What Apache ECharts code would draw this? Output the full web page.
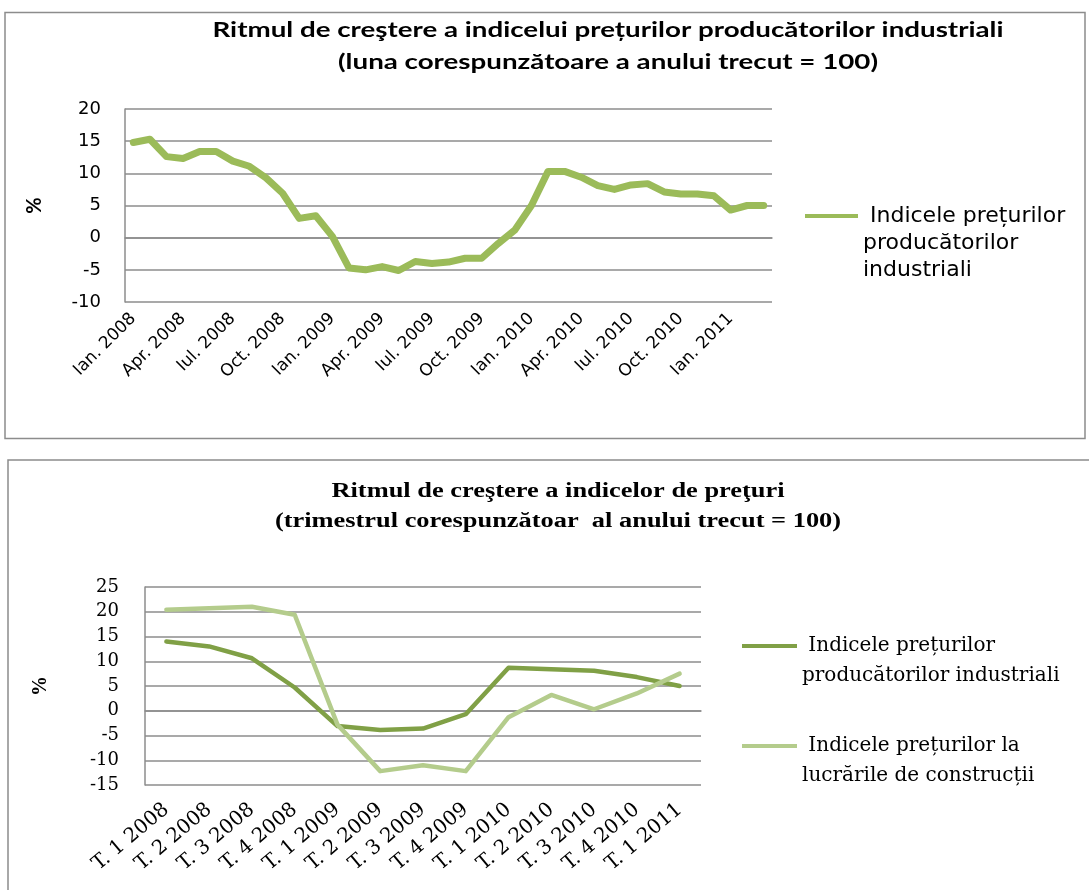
<!DOCTYPE html>
<html>
<head>
<meta charset="utf-8">
<script src="https://cdn.jsdelivr.net/npm/echarts@6/dist/echarts.min.js"></script>
<style>
  html, body { margin: 0; padding: 0; background: #fff; }
  #chart { width: 1089px; height: 890px; }
</style>
</head>
<body>
<div id="chart"></div>
<script>
// lunile (grafic lunar)
var months = [
  'Ian. 2008', 'Feb. 2008', 'Mar. 2008', 'Apr. 2008', 'Mai 2008', 'Iun. 2008',
  'Iul. 2008', 'Aug. 2008', 'Sep. 2008', 'Oct. 2008', 'Nov. 2008', 'Dec. 2008',
  'Ian. 2009', 'Feb. 2009', 'Mar. 2009', 'Apr. 2009', 'Mai 2009', 'Iun. 2009',
  'Iul. 2009', 'Aug. 2009', 'Sep. 2009', 'Oct. 2009', 'Nov. 2009', 'Dec. 2009',
  'Ian. 2010', 'Feb. 2010', 'Mar. 2010', 'Apr. 2010', 'Mai 2010', 'Iun. 2010',
  'Iul. 2010', 'Aug. 2010', 'Sep. 2010', 'Oct. 2010', 'Nov. 2010', 'Dec. 2010',
  'Ian. 2011', 'Feb. 2011', 'Mar. 2011'
];
var ipiMonthly = [
  14.8, 15.3, 12.6, 12.3, 13.4, 13.4, 11.9, 11.1, 9.3, 6.9, 3.0, 3.4,
  0.2, -4.7, -5.0, -4.5, -5.1, -3.7, -4.0, -3.8, -3.2, -3.2, -0.9, 1.2,
  5.0, 10.3, 10.3, 9.4, 8.1, 7.5, 8.2, 8.4, 7.1, 6.8, 6.8, 6.5,
  4.3, 5.0, 5.0
];

// trimestrele (grafic trimestrial)
var quarters = [
  'T. 1 2008', 'T. 2 2008', 'T. 3 2008', 'T. 4 2008',
  'T. 1 2009', 'T. 2 2009', 'T. 3 2009', 'T. 4 2009',
  'T. 1 2010', 'T. 2 2010', 'T. 3 2010', 'T. 4 2010',
  'T. 1 2011'
];
var ipiQuarterly = [14.0, 13.0, 10.6, 4.7, -3.1, -3.9, -3.6, -0.7, 8.7, 8.4, 8.1, 6.8, 5.0];
var constrQuarterly = [20.4, 20.7, 21.0, 19.4, -2.8, -12.2, -11.0, -12.2, -1.3, 3.2, 0.3, 3.5, 7.5];

var nameIpi = 'Indicele prețurilor producătorilor industriali';
var nameConstr = 'Indicele prețurilor la lucrările de construcții';

var gridColor = '#8c8c8c';
var sansTop = 'Lato, "Open Sans", sans-serif';
var sansWide = '"DejaVu Sans", sans-serif';
var serif = '"Liberation Serif", serif';
var serifWide = '"DejaVu Serif", serif';

var myChart = echarts.init(document.getElementById('chart'));

var options = {
  animation: false,
  graphic: [
    { type: 'rect', shape: { x: 5, y: 12.5, width: 1080, height: 426 },
      style: { fill: 'none', stroke: gridColor, lineWidth: 1.5 } },
    { type: 'rect', shape: { x: 8, y: 460, width: 1100, height: 450 },
      style: { fill: 'none', stroke: gridColor, lineWidth: 1.5 } },
    // titlurile sunt intinse pe orizontala, ca in original
    { type: 'text', x: 608, y: 46, scaleX: 1.32,
      style: { text: 'Ritmul de creştere a indicelui prețurilor producătorilor industriali\n(luna corespunzătoare a anului trecut = 100)',
        align: 'center', verticalAlign: 'middle', lineHeight: 32,
        font: 'bold 21px ' + sansTop, fill: '#000' } },
    { type: 'text', x: 558, y: 507, scaleX: 1.32,
      style: { text: 'Ritmul de creştere a indicelor de preţuri\n(trimestrul corespunzătoar  al anului trecut = 100)',
        align: 'center', verticalAlign: 'middle', lineHeight: 30,
        font: 'bold 20px ' + serif, fill: '#000' } }
  ],
  grid: [
    { left: 125, top: 109, width: 647, height: 193 },
    { left: 145, top: 587, width: 556, height: 198 }
  ],
  xAxis: [
    {
      gridIndex: 0, type: 'category', data: months, boundaryGap: true,
      axisLine: { onZero: true, lineStyle: { color: gridColor, width: 1.5 } },
      axisTick: { interval: 0, length: 5, lineStyle: { color: gridColor, width: 1.5 } },
      axisLabel: { show: false }, splitLine: { show: false }
    },
    {
      gridIndex: 0, type: 'category', data: months, boundaryGap: true, position: 'bottom',
      axisLine: { show: false, onZero: false }, axisTick: { show: false },
      axisLabel: { interval: 2, rotate: 45, margin: 14, color: '#000', fontSize: 17, fontFamily: sansWide },
      splitLine: { show: false }
    },
    {
      gridIndex: 1, type: 'category', data: quarters, boundaryGap: true,
      axisLine: { onZero: true, lineStyle: { color: gridColor, width: 1.5 } },
      axisTick: { interval: 0, length: 5, lineStyle: { color: gridColor, width: 1.5 } },
      axisLabel: { show: false }, splitLine: { show: false }
    },
    {
      gridIndex: 1, type: 'category', data: quarters, boundaryGap: true, position: 'bottom',
      axisLine: { show: false, onZero: false }, axisTick: { show: false },
      axisLabel: { interval: 0, rotate: 40, margin: 22, color: '#000', fontSize: 20, fontFamily: serifWide },
      splitLine: { show: false }
    }
  ],
  yAxis: [
    {
      gridIndex: 0, type: 'value', min: -10, max: 20, interval: 5,
      axisLine: { show: true, onZero: false, lineStyle: { color: gridColor, width: 1.5 } },
      axisTick: { show: false },
      splitLine: { lineStyle: { color: gridColor, width: 1.5 } },
      axisLabel: { margin: 24, color: '#000', fontSize: 18, fontFamily: sansWide },
      name: '%', nameLocation: 'middle', nameRotate: 90, nameGap: 80,
      nameTextStyle: { color: '#000', fontSize: 20, fontWeight: 'bold', fontFamily: sansTop }
    },
    {
      gridIndex: 1, type: 'value', min: -15, max: 25, interval: 5,
      axisLine: { show: true, onZero: false, lineStyle: { color: gridColor, width: 1.5 } },
      axisTick: { show: false },
      splitLine: { lineStyle: { color: gridColor, width: 1.5 } },
      axisLabel: { margin: 26, color: '#000', fontSize: 18, fontFamily: serifWide },
      name: '%', nameLocation: 'middle', nameRotate: 90, nameGap: 94,
      nameTextStyle: { color: '#000', fontSize: 20, fontWeight: 'bold', fontFamily: serif }
    }
  ],
  legend: [
    {
      orient: 'vertical', left: 805, top: 202.5, padding: 0,
      itemWidth: 53, itemHeight: 81,
      icon: 'path://M0,0h0.1v0.1h-0.1zM0,11.5h53v4h-53zM0,80.9h0.1v0.1h-0.1z',
      data: [{ name: nameIpi, itemStyle: { color: '#9bbb59' } }],
      formatter: function () { return ' Indicele prețurilor\nproducătorilor\nindustriali'; },
      textStyle: { color: '#000', fontSize: 22, lineHeight: 27, fontFamily: sansWide }
    },
    {
      orient: 'vertical', left: 742, top: 631, padding: 0,
      itemWidth: 55, itemHeight: 60, itemGap: 40,
      icon: 'path://M0,0h0.1v0.1h-0.1zM0,13h55v4h-55zM0,59.9h0.1v0.1h-0.1z',
      data: [
        { name: nameIpi, itemStyle: { color: '#80a046' } },
        { name: nameConstr, itemStyle: { color: '#b4cc8c' } }
      ],
      formatter: function (name) {
        return name === nameIpi
          ? ' Indicele prețurilor\nproducătorilor industriali'
          : ' Indicele prețurilor la\nlucrările de construcții';
      },
      textStyle: { color: '#000', fontSize: 20, lineHeight: 30, fontFamily: serifWide }
    }
  ],
  series: [
    {
      name: nameIpi, type: 'line', xAxisIndex: 0, yAxisIndex: 0,
      symbol: 'none', data: ipiMonthly, color: '#9bbb59',
      lineStyle: { width: 7, color: '#9bbb59', cap: 'round', join: 'round' }
    },
    {
      name: nameIpi, type: 'line', xAxisIndex: 2, yAxisIndex: 1,
      symbol: 'none', data: ipiQuarterly, color: '#80a046',
      lineStyle: { width: 4.5, color: '#80a046', cap: 'round', join: 'round' }
    },
    {
      name: nameConstr, type: 'line', xAxisIndex: 2, yAxisIndex: 1,
      symbol: 'none', data: constrQuarterly, color: '#b4cc8c',
      lineStyle: { width: 4.5, color: '#b4cc8c', cap: 'round', join: 'round' }
    }
  ]
};

myChart.setOption(options);
</script>
</body>
</html>
